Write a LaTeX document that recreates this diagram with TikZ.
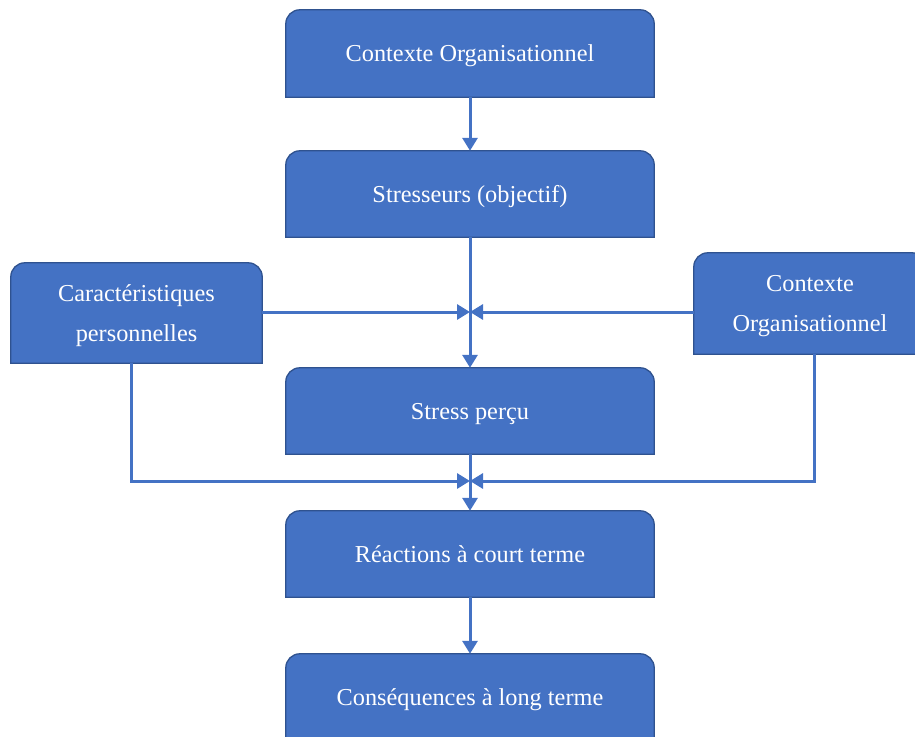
\documentclass[tikz,border=0pt]{standalone}
\usepackage{fontspec}
\setmainfont{Liberation Serif}
\usepackage{tikz}
\usetikzlibrary{arrows.meta}
\usetikzlibrary{backgrounds}

\definecolor{boxblue}{HTML}{4472C4}
\definecolor{boxedge}{HTML}{2F528F}

\begin{document}
\begin{tikzpicture}[x=1pt, y=-1pt,
    box/.style={text=white, align=center, inner sep=0pt, text depth=0pt,
      font=\fontsize{24.3}{40}\selectfont, minimum width=368pt, minimum height=86pt},
    link/.style={draw=boxblue, line width=3pt, -{Triangle[width=15pt,length=13pt]}},
    topround/.style={fill=boxblue, draw=boxedge, line width=1.3pt}]
  \useasboundingbox (0,0) rectangle (915,736);

  \node[box, minimum height=87pt] (orga) at (470,53.5) {Contexte Organisationnel};
  \node[box] (stressors) at (470,194) {Stresseurs (objectif)};
  \node[box, minimum width=251pt, minimum height=100pt] (perso) at (136.5,313) {Caractéristiques\\personnelles};
  \node[box, minimum width=232pt, minimum height=101pt] (orgaside) at (810,303.5) {Contexte\\Organisationnel};
  \node[box] (perceived) at (470,411) {Stress perçu};
  \node[box] (shortterm) at (470,554) {Réactions à court terme};
  \node[box] (longterm) at (470,697) {Conséquences à long terme};

  \coordinate (merge1) at (470,312);
  \coordinate (merge2) at (470,481);

  % boxes with rounded top corners
  \begin{scope}[on background layer]
    \foreach \n in {orga,stressors,perso,orgaside,perceived,shortterm,longterm}
      \draw[topround] (\n.south west) -- ([yshift=-14pt]\n.north west)
        arc[start angle=180, end angle=90, radius=14pt]
        -- ([xshift=-14pt]\n.north east)
        arc[start angle=90, end angle=0, radius=14pt]
        -- (\n.south east) -- cycle;
  \end{scope}

  \draw[link] (orga.south) -- (stressors.north);
  \draw[link] (stressors.south) -- (perceived.north);
  \draw[link] (perso.east |- merge1) -- (merge1);
  \draw[link] (orgaside.west |- merge1) -- (merge1);
  \draw[link] ([xshift=-5pt]perso.south) |- (merge2);
  \draw[link] ([xshift=4pt]orgaside.south) |- (merge2);
  \draw[link] (perceived.south) -- (shortterm.north);
  \draw[link] (shortterm.south) -- (longterm.north);
\end{tikzpicture}
\end{document}
